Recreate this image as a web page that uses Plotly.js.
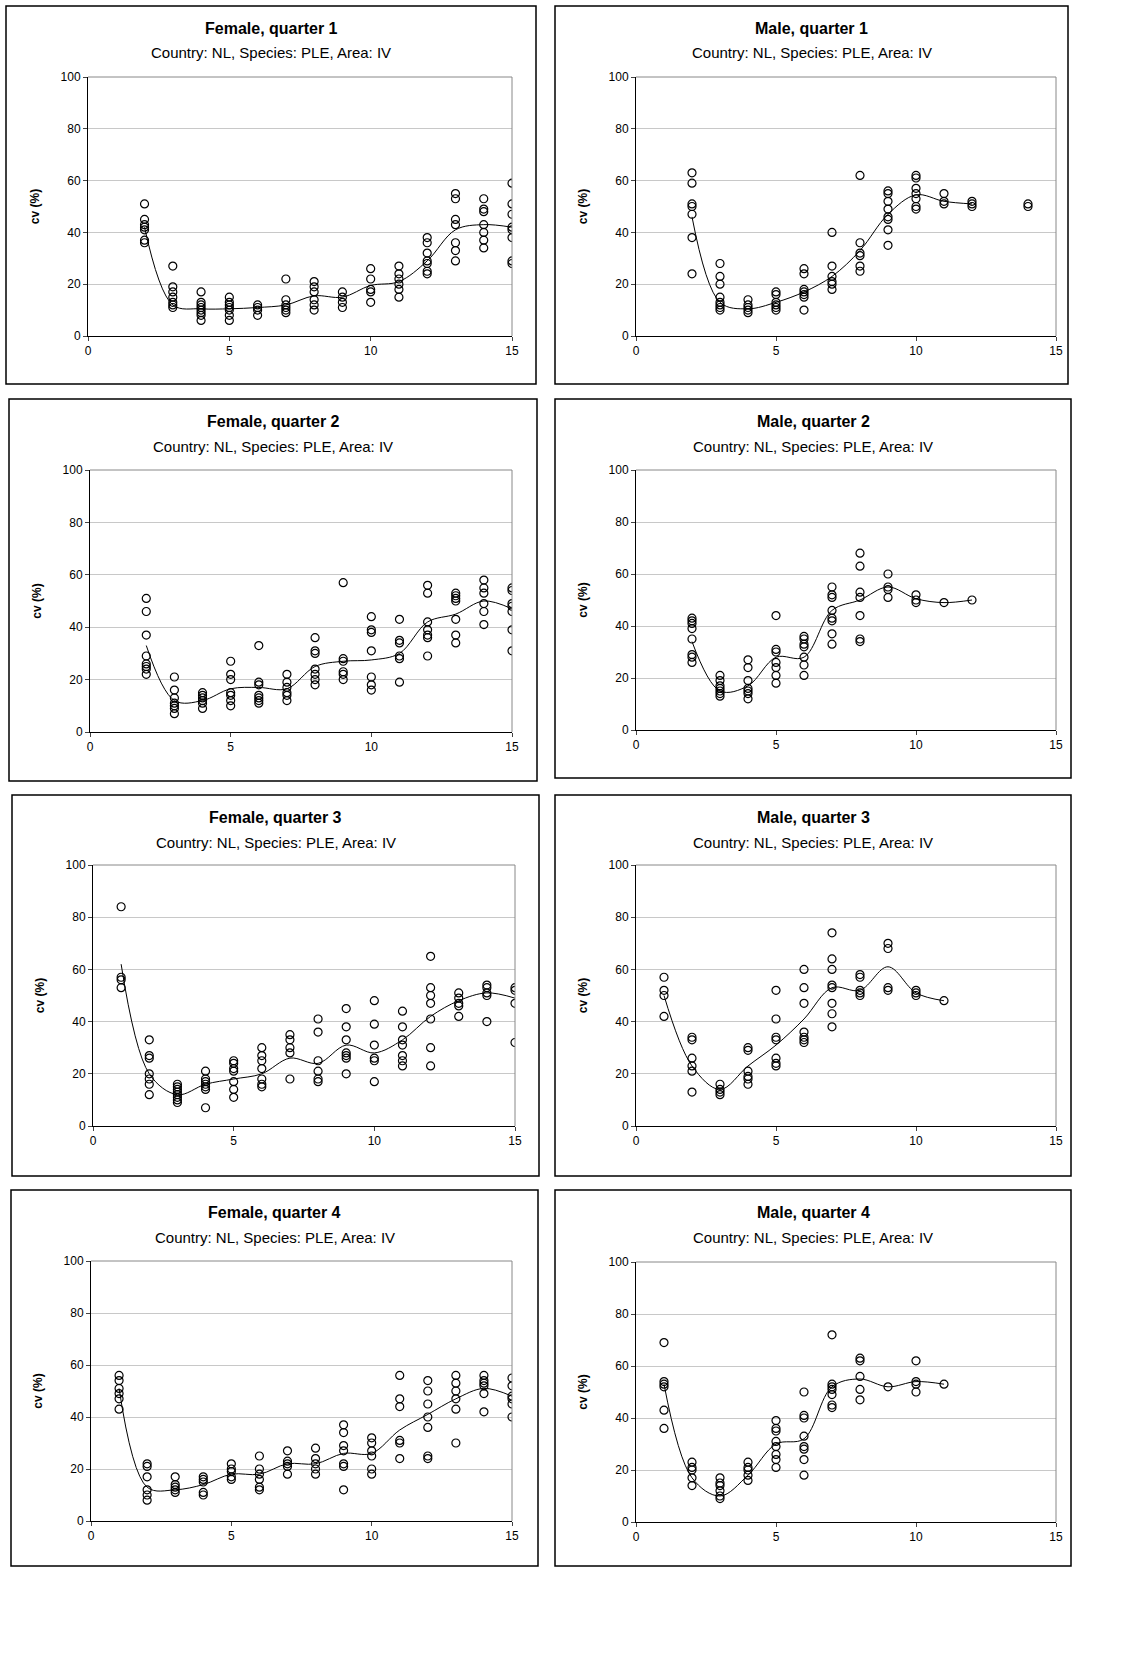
<!DOCTYPE html>
<html>
<head>
<meta charset="utf-8">
<script src="https://cdn.plot.ly/plotly-3.0.1.min.js"></script>
<style>body{margin:0;background:#fff}#chart{width:1138px;height:1666px}</style>
</head>
<body>
<div id="chart"></div>
<script>
// cv values per age (points) and mean line per panel
var f1Ages = [2,3,4,5,6,7,8,9,10,11,12,13,14,15];
var f1Pts = [[51,45,43,42,41,37,36],[27,19,17,15,13,12,11],[17,13,12,11,10,9,8,6],[15,13,12,11,10,8,6],[12,11,10,8],[22,14,12,11,10,9],[21,19,17,14,12,10],[17,15,13,11],[26,22,18,17,13],[27,24,22,20,18,15],[38,36,32,29,28,25,24],[55,53,45,43,36,33,29],[53,49,48,43,40,37,34],[59,51,47,42,41,38,29,28]];
var f1Line = [42,12,10.5,10.5,11,12,15.5,15,19.5,21,29,41,43,42];

var m1Ages = [2,3,4,5,6,7,8,9,10,11,12,14];
var m1Pts = [[63,59,51,50,47,38,24],[28,23,20,15,13,12,11,10],[14,12,11,10,9],[17,16,13,12,11,10],[26,24,18,17,16,15,10],[40,27,23,21,20,18],[62,36,32,31,27,25],[56,55,52,49,46,45,41,35],[62,61,57,55,53,50,49],[55,52,51],[52,51,50],[51,50]];
var m1Line = [46,13,10.5,13,17,23,33,47,54.5,52,51,null];

var f2Ages = [2,3,4,5,6,7,8,9,10,11,12,13,14,15];
var f2Pts = [[51,46,37,29,26,25,24,22],[21,16,13,11,10,9,7],[15,14,13,12,11,9],[27,22,20,15,14,12,10],[33,19,18,14,13,12,11],[22,19,17,15,14,12],[36,31,30,24,22,20,18],[57,28,27,23,22,20],[44,39,38,31,21,18,16],[43,35,34,29,28,19],[56,53,42,39,37,36,29],[53,52,51,50,43,37,34],[58,55,53,49,46,41],[55,54,49,48,46,39,31]];
var f2Line = [33,12,12,16.5,17,16.5,25,27,27.5,30,42,45,50,47];

var m2Ages = [2,3,4,5,6,7,8,9,10,11,12];
var m2Pts = [[43,42,41,39,35,29,28,26],[21,19,17,16,15,14,13],[27,24,19,16,15,14,12],[44,31,30,26,24,21,18],[36,35,33,32,28,25,21],[55,52,51,46,43,42,37,33],[68,63,53,51,44,35,34],[60,55,54,51],[52,50,49],[49],[50]];
var m2Line = [34,15,17,28,28,46,50,55,50.5,49,50];

var f3Ages = [1,2,3,4,5,6,7,8,9,10,11,12,13,14,15];
var f3Pts = [[84,57,56,53],[33,27,26,20,18,16,12],[16,15,14,13,12,11,10,9],[21,18,17,16,15,14,7],[25,24,22,21,17,14,11],[30,27,25,22,18,16,15],[35,33,30,28,18],[41,36,25,21,18,17],[45,38,33,28,27,26,20],[48,39,31,26,25,17],[44,38,33,31,27,25,23],[65,53,50,47,41,30,23],[51,49,47,46,42],[54,53,51,50,40],[53,52,47,32]];
var f3Line = [62,20,12,16,18,20,26,24,31,28,33,42,48,51,49];

var m3Ages = [1,2,3,4,5,6,7,8,9,10,11];
var m3Pts = [[57,52,50,42],[34,33,26,23,21,13],[16,14,13,12],[30,29,21,19,18,16],[52,41,34,33,26,24,23],[60,53,47,36,34,33,32],[74,64,60,54,53,47,43,38],[58,57,52,51,50],[70,68,53,52],[52,51,50],[48]];
var m3Line = [50,23,14,23,31,41,53,52,61,51,48];

var f4Ages = [1,2,3,4,5,6,7,8,9,10,11,12,13,14,15];
var f4Pts = [[56,54,51,49,47,43],[22,21,17,12,10,8],[17,14,13,12,11],[17,16,15,11,10],[22,20,19,17,16],[25,20,18,16,13,12],[27,23,22,21,18],[28,24,22,20,18],[37,34,29,27,22,21,12],[32,30,27,25,20,18],[56,47,44,31,30,24],[54,50,45,40,36,25,24],[56,53,50,47,43,30],[56,54,53,52,49,42],[55,52,48,47,45,40]];
var f4Line = [51,13,12,14,18,18,22,22,26,26,35,41,47,51,48];

var m4Ages = [1,2,3,4,5,6,7,8,9,10,11];
var m4Pts = [[69,54,53,52,43,36],[23,21,20,17,14],[17,15,14,12,10,9],[23,21,20,18,16],[39,36,35,31,29,26,24,21],[50,41,40,33,29,28,24,18],[72,53,52,51,49,45,44],[63,62,56,51,47],[52],[62,54,53,50],[53]];
var m4Line = [53,17,10,18,30,32,52,55,52,54,53];

var titles = ["Female, quarter 1","Male, quarter 1","Female, quarter 2","Male, quarter 2","Female, quarter 3","Male, quarter 3","Female, quarter 4","Male, quarter 4"];
var subtitle = "Country: NL, Species: PLE, Area: IV";

var panels = [
  {ages:f1Ages,pts:f1Pts,line:f1Line, box:[6,6,536,384], plot:[88,77,512,336]},
  {ages:m1Ages,pts:m1Pts,line:m1Line, box:[555,6,1068,384], plot:[636,77,1056,336]},
  {ages:f2Ages,pts:f2Pts,line:f2Line, box:[9,399,537,781], plot:[90,470,512,732]},
  {ages:m2Ages,pts:m2Pts,line:m2Line, box:[555,399,1071,778], plot:[636,470,1056,730]},
  {ages:f3Ages,pts:f3Pts,line:f3Line, box:[12,795,539,1176], plot:[93,865,515,1126]},
  {ages:m3Ages,pts:m3Pts,line:m3Line, box:[555,795,1071,1176], plot:[636,865,1056,1126]},
  {ages:f4Ages,pts:f4Pts,line:f4Line, box:[11,1190,538,1566], plot:[91,1261,512,1521]},
  {ages:m4Ages,pts:m4Pts,line:m4Line, box:[555,1190,1071,1566], plot:[636,1262,1056,1522]}
];

var W = 1138, H = 1666;
var FONT = "Liberation Sans, Arial, sans-serif";
var data = [];
var layout = {width:W, height:H, margin:{l:0,r:0,t:0,b:0}, showlegend:false,
  paper_bgcolor:"#fff", plot_bgcolor:"#fff", shapes:[], annotations:[], font:{family:FONT,size:12,color:"#000"}};

panels.forEach(function(p, i){
  var n = i + 1;
  var xs = [], ys = [];
  p.ages.forEach(function(a, k){
    p.pts[k].forEach(function(v){ xs.push(a); ys.push(v); });
  });
  var xa = n === 1 ? "x" : "x" + n, ya = n === 1 ? "y" : "y" + n;
  data.push({x:xs, y:ys, xaxis:xa, yaxis:ya, type:"scatter", mode:"markers",
    marker:{symbol:"circle-open", size:8, color:"#000", line:{width:1.2}}, hoverinfo:"x+y"});
  data.push({x:p.ages, y:p.line, xaxis:xa, yaxis:ya, type:"scatter", mode:"lines",
    line:{color:"#000", width:1, shape:"spline", smoothing:1}, connectgaps:false});

  var key = n === 1 ? "" : n;
  layout["xaxis" + key] = {domain:[p.plot[0]/W, p.plot[2]/W], range:[0,15], anchor:ya,
    tickvals:[0,5,10,15], ticks:"outside", ticklen:4, showgrid:false, zeroline:false,
    showline:true, linecolor:"#000", tickfont:{size:12,family:FONT}};
  layout["yaxis" + key] = {domain:[1 - p.plot[3]/H, 1 - p.plot[1]/H], range:[0,100], anchor:xa,
    tickvals:[0,20,40,60,80,100], ticks:"outside", ticklen:4, showgrid:true, gridcolor:"#c8c8c8",
    zeroline:false, showline:true, linecolor:"#000", tickfont:{size:12,family:FONT},
    title:{text:"<b>cv (%)</b>", font:{size:12,family:FONT}, standoff:18}};
  layout.shapes.push({type:"rect", xref:"paper", yref:"paper",
    x0:p.box[0]/W, x1:p.box[2]/W, y0:1 - p.box[3]/H, y1:1 - p.box[1]/H, line:{color:"#000",width:1.5}});
  layout.shapes.push({type:"line", xref:"paper", yref:"paper",
    x0:p.plot[0]/W, x1:p.plot[2]/W, y0:1 - p.plot[1]/H, y1:1 - p.plot[1]/H, line:{color:"#888",width:1}});
  layout.shapes.push({type:"line", xref:"paper", yref:"paper",
    x0:p.plot[2]/W, x1:p.plot[2]/W, y0:1 - p.plot[1]/H, y1:1 - p.plot[3]/H, line:{color:"#888",width:1}});
  var cx = (p.box[0] + p.box[2]) / 2 / W;
  layout.annotations.push({xref:"paper", yref:"paper", x:cx, y:1 - (p.box[1] + 22)/H, showarrow:false,
    xanchor:"center", yanchor:"middle", text:"<b>" + titles[i] + "</b>", font:{size:16,family:FONT}});
  layout.annotations.push({xref:"paper", yref:"paper", x:cx, y:1 - (p.box[1] + 47)/H, showarrow:false,
    xanchor:"center", yanchor:"middle", text:subtitle, font:{size:15,family:FONT}});
});

Plotly.newPlot("chart", data, layout, {displayModeBar:false, staticPlot:true});
</script>
</body>
</html>
